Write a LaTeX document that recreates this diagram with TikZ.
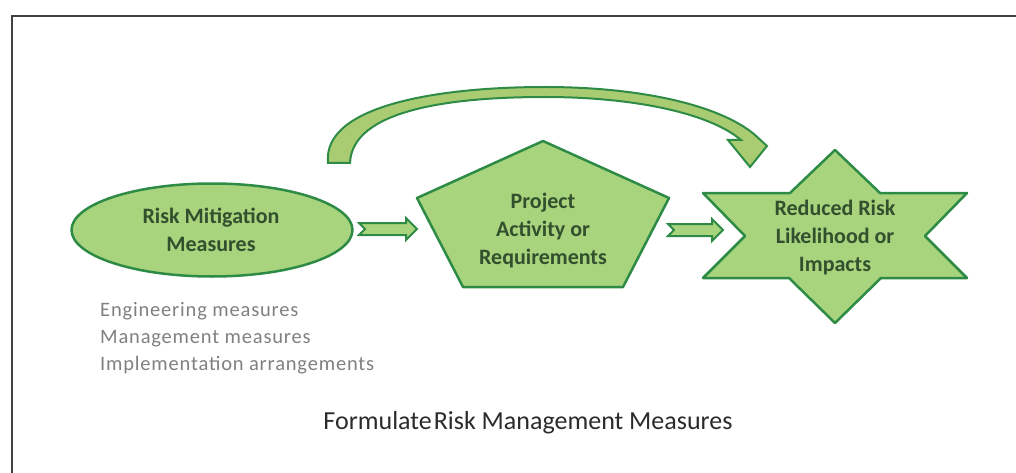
\documentclass[tikz,border=0pt]{standalone}
\usepackage{fontspec}
\setmainfont{Carlito}
\usetikzlibrary{shapes.geometric}
\definecolor{fillg}{HTML}{A8D47E}
\definecolor{fillc}{HTML}{A9CC72}
\definecolor{lineg}{HTML}{2E8B45}
\definecolor{txtg}{HTML}{33502E}
\definecolor{listg}{HTML}{808080}
\definecolor{titleg}{HTML}{2B2B2B}
\tikzset{
  shapebox/.style={draw=lineg, fill=fillg, line width=2.5pt, line join=round},
  blockarr/.style={draw=lineg, fill=fillg, line width=2pt, line join=miter},
  lbl/.style={font=\fontsize{22}{28}\selectfont\bfseries, text=txtg, align=center},
}
\begin{document}
\begin{tikzpicture}[x=1pt,y=-1pt]
\useasboundingbox (0,0) rectangle (1016,473);
\draw[line width=2.5pt, black!75] (1016,16) -- (12,16) -- (12,473);

% ellipse
\node[ellipse, shapebox, minimum width=281pt, minimum height=93pt, inner sep=0pt] (rm) at (212,230) {};
\node[lbl] (rmt) at (211,230) {Risk Mitigation\\Measures};

% pentagon
\coordinate (p1) at (543,141);
\coordinate (p2) at (669,198);
\coordinate (p3) at (623,287);
\coordinate (p4) at (463,287);
\coordinate (p5) at (417,198);
\path[shapebox] (p1) -- (p2) -- (p3) -- (p4) -- (p5) -- cycle;
\node[lbl] (pa) at (543,231) {Project\\Activity or\\Requirements};

% star
\coordinate (s0) at (835,150);
\path[shapebox] (s0) -- (880,193) -- (967,193) -- (925,236) -- (967,278) -- (881,278)
  -- (835,323) -- (789,278) -- (703,278) -- (745,236) -- (703,193) -- (790,193) -- cycle;
\node[lbl] (rr) at (835,238) {Reduced Risk\\Likelihood or\\Impacts};

% block arrows
\coordinate (a1) at (359,229);
\coordinate (a2) at (668,230);
\path[blockarr, shift={(a1)}] (0,-6) -- (47,-6) -- (47,-11) -- (58,0) -- (47,11) -- (47,6) -- (0,6) -- (6,0) -- cycle;
\path[blockarr, shift={(a2)}] (0,-6) -- (44,-6) -- (44,-11) -- (55,0) -- (44,11) -- (44,6) -- (0,6) -- (6,0) -- cycle;

% curved arrow
\path[draw=lineg, fill=fillc, line width=2pt, line join=miter]
  (328,163) .. controls (322,105) and (440,87) .. (545,87)
  .. controls (640,87) and (720,105) .. (755,135)
  -- (767,146) -- (750,167) -- (728,140) -- (741,140)
  .. controls (708,112) and (630,97) .. (545,97)
  .. controls (450,97) and (352,110) .. (350,163) -- cycle;

% list
\node[anchor=north west, font=\fontsize{20.5}{27}\selectfont\addfontfeatures{LetterSpace=4}, text=listg, align=left, inner sep=0pt] (lst) at (100,302)
  {Engineering measures\\Management measures\\Implementation arrangements};

% title
\node[font=\fontsize{26}{30}\selectfont, text=titleg] (ttl) at (528,423) {Formulate\kern2pt Risk Management Measures};
\end{tikzpicture}
\end{document}
